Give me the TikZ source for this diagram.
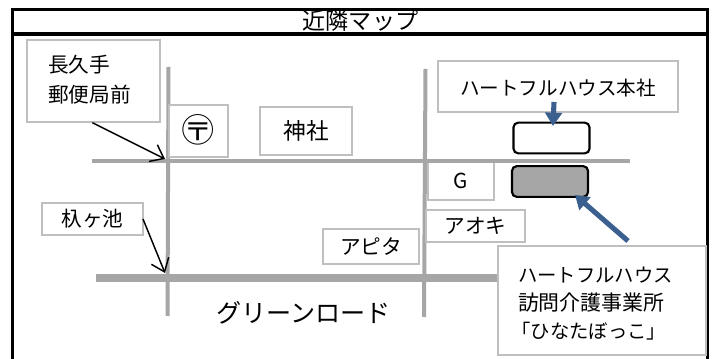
\documentclass[tikz,border=0pt]{standalone}
\usepackage{fontspec}
\setmainfont{Noto Sans CJK JP}
\usetikzlibrary{arrows.meta}
\definecolor{roadc}{HTML}{A6A6A6}
\definecolor{edgec}{HTML}{BFBFBF}
\definecolor{bluec}{HTML}{3B5F8F}
\tikzset{
  lbl/.style 2 args={draw=edgec,line width=1.5pt,fill=white,inner sep=0pt,outer sep=0pt,
    minimum width=#1*0.75pt,minimum height=#2*0.75pt,font=\fontsize{15.5pt}{21pt}\selectfont},
  plain/.style={inner sep=0pt,outer sep=0pt,align=left},
  road/.style={draw=roadc,line width=3pt},
  wideroad/.style={draw=roadc,line width=5.4pt},
  frameline/.style={draw=black,line width=2.6pt},
  blk/.style={draw=black,line width=1.1pt,-{Straight Barb[length=9pt,width=14pt,line width=1.1pt]}},
  blu/.style={draw=bluec,line width=3.8pt,-{Triangle[length=10pt,width=12.5pt]}},
  bldg/.style={draw=black,line width=1.6pt,rounded corners=3.5pt,inner sep=0pt,outer sep=0pt}
}
\begin{document}
\begin{tikzpicture}[x=0.75pt,y=-0.75pt]
\useasboundingbox (0,0) rectangle (721,359);
\fill[white] (0,0) rectangle (721,359);
% roads
\coordinate (v1t) at (168.5,67); \coordinate (v1b) at (167.5,316);
\coordinate (v2t) at (425.5,69); \coordinate (v2b) at (424,317);
\coordinate (h1l) at (92,161); \coordinate (h1r) at (630,161);
\coordinate (h2l) at (96,278); \coordinate (h2r) at (500,278);
\draw[road] (v1t) -- (v1b);
\draw[road] (v2t) -- (v2b);
\draw[wideroad] (h2l) -- (h2r);
% frame
\coordinate (fa) at (12.5,359); \coordinate (fb) at (12.5,9.5);
\coordinate (fc) at (707.5,9.5); \coordinate (fd) at (707.5,359);
\coordinate (tl) at (12.5,34); \coordinate (tr) at (707.5,34);
\draw[frameline] (fa) -- (fb) -- (fc) -- (fd);
\draw[frameline] (tl) -- (tr);
\node[plain,font=\fontsize{17.3pt}{20pt}\selectfont] (title) at (360.5,21) {近隣マップ};
% label boxes
\node[lbl={133}{82},align=left] (nagakute) at (93.5,81) {};
\node[plain,anchor=west,font=\fontsize{15.5pt}{22.5pt}\selectfont] (nagakutet) at (48,79.5) {長久手\\郵便局前};
\node[lbl={59}{52}] (post) at (198.5,131) {};
\node[plain,font=\fontsize{25pt}{28pt}\selectfont] (postt) at (198.5,130) {〶};
\node[lbl={92}{48},font=\fontsize{17pt}{21pt}\selectfont] (shrine) at (306,131) {神社};
\node[lbl={240}{51}] (honsha) at (558,86.5) {};
\node[plain,font=\fontsize{14.7pt}{20pt}\selectfont] (honshat) at (558,88) {ハートフルハウス本社};
\node[lbl={66}{39}] (gs) at (461,180.5) {G};
\node[lbl={99}{32}] (aoki) at (475.5,226) {アオキ};
\node[lbl={96}{35}] (apita) at (371,246.5) {アピタ};
\node[lbl={101}{32}] (ike) at (92.5,219) {杁ヶ池};
\node[lbl={208}{109}] (office) at (602,300.5) {};
\node[plain,anchor=west,font=\fontsize{15.7pt}{21.3pt}\selectfont] (officet) at (518,303.5) {{\fontsize{14.5pt}{21.3pt}\selectfont ハートフルハウス}\\訪問介護事業所\\\hspace*{-5pt}{\fontsize{14.5pt}{21.3pt}\selectfont 「ひなたぼっこ」}};
\node[plain,font=\fontsize{18.8pt}{24pt}\selectfont] (green) at (303.5,313) {グリーンロード};
\draw[road] (h1l) -- (h1r);
% buildings
\node[bldg,fill=white,minimum width=57pt,minimum height=23pt] (hq) at (551.5,138) {};
\node[bldg,fill=roadc,minimum width=57pt,minimum height=23pt] (jigyo) at (550,181.5) {};
% arrows
\coordinate (c1) at (165,159);
\coordinate (c2) at (165,273);
\draw[blk] ([xshift=-0.9pt,yshift=-0.5pt]nagakute.south) -- (c1);
\draw[blk] ([yshift=0pt]ike.east) -- (c2);
\coordinate (b1) at (554,102); \coordinate (b1e) at (553,126);
\draw[blu] (b1) -- (b1e);
\coordinate (b2) at (628,241); \coordinate (b2e) at (575,195);
\draw[blu] (b2) -- (b2e);
\end{tikzpicture}
\end{document}
